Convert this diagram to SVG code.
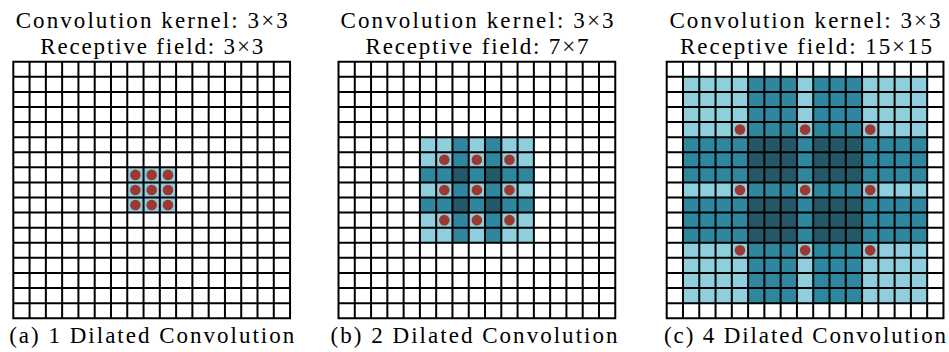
<svg xmlns="http://www.w3.org/2000/svg" xmlns:xlink="http://www.w3.org/1999/xlink" width="949" height="352" viewBox="0 0 949 352">
<style>
text{font-family:"Liberation Serif","Times New Roman",Times,serif;font-size:23px;fill:#000;text-anchor:middle}
.grid{fill:none;stroke:#000;stroke-width:2}
.l{fill:#8fcedc}
.m{fill:#2e879e}
.d{fill:#225868}
.dot{fill:#9c3731}
</style>
<defs>
<path id="gridlines" class="grid" d="M0,0V256.53M16.28,0V256.53M32.56,0V256.53M48.84,0V256.53M65.12,0V256.53M81.4,0V256.53M97.68,0V256.53M113.96,0V256.53M130.24,0V256.53M146.52,0V256.53M162.8,0V256.53M179.08,0V256.53M195.36,0V256.53M211.64,0V256.53M227.92,0V256.53M244.2,0V256.53M260.48,0V256.53M276.76,0V256.53M-1,0H277.76M-1,15.09H277.76M-1,30.18H277.76M-1,45.27H277.76M-1,60.36H277.76M-1,75.45H277.76M-1,90.54H277.76M-1,105.63H277.76M-1,120.72H277.76M-1,135.81H277.76M-1,150.9H277.76M-1,165.99H277.76M-1,181.08H277.76M-1,196.17H277.76M-1,211.26H277.76M-1,226.35H277.76M-1,241.44H277.76M-1,256.53H277.76"/>
</defs>

<g id="panel-a">
<text x="151.7" y="28" textLength="272" lengthAdjust="spacing">Convolution kernel: 3×3</text>
<text x="151.7" y="54" textLength="223" lengthAdjust="spacing">Receptive field: 3×3</text>
<g transform="translate(13.3,61.7)">
<rect class="l" x="113.96" y="105.63" width="48.84" height="45.27"/>
<use xlink:href="#gridlines" href="#gridlines"/>
<circle class="dot" cx="122.1" cy="113.18" r="5.3"/><circle class="dot" cx="138.38" cy="113.18" r="5.3"/><circle class="dot" cx="154.66" cy="113.18" r="5.3"/>
<circle class="dot" cx="122.1" cy="128.27" r="5.3"/><circle class="dot" cx="138.38" cy="128.27" r="5.3"/><circle class="dot" cx="154.66" cy="128.27" r="5.3"/>
<circle class="dot" cx="122.1" cy="143.36" r="5.3"/><circle class="dot" cx="138.38" cy="143.36" r="5.3"/><circle class="dot" cx="154.66" cy="143.36" r="5.3"/>
</g>
<text x="151.7" y="343" textLength="285" lengthAdjust="spacing">(a) 1 Dilated Convolution</text>
</g>

<g id="panel-b">
<text x="477" y="28" textLength="273" lengthAdjust="spacing">Convolution kernel: 3×3</text>
<text x="477" y="54" textLength="223" lengthAdjust="spacing">Receptive field: 7×7</text>
<g transform="translate(338.5,61.7)">
<rect class="l" x="81.4" y="75.45" width="113.96" height="105.63"/>
<rect class="m" x="113.96" y="75.45" width="16.28" height="105.63"/>
<rect class="m" x="146.52" y="75.45" width="16.28" height="105.63"/>
<rect class="m" x="81.4" y="105.63" width="113.96" height="15.09"/>
<rect class="m" x="81.4" y="135.81" width="113.96" height="15.09"/>
<rect class="d" x="113.96" y="105.63" width="16.28" height="15.09"/>
<rect class="d" x="146.52" y="105.63" width="16.28" height="15.09"/>
<rect class="d" x="113.96" y="135.81" width="16.28" height="15.09"/>
<rect class="d" x="146.52" y="135.81" width="16.28" height="15.09"/>
<use xlink:href="#gridlines" href="#gridlines"/>
<circle class="dot" cx="105.82" cy="98.09" r="5.3"/><circle class="dot" cx="138.38" cy="98.09" r="5.3"/><circle class="dot" cx="170.94" cy="98.09" r="5.3"/>
<circle class="dot" cx="105.82" cy="128.27" r="5.3"/><circle class="dot" cx="138.38" cy="128.27" r="5.3"/><circle class="dot" cx="170.94" cy="128.27" r="5.3"/>
<circle class="dot" cx="105.82" cy="158.45" r="5.3"/><circle class="dot" cx="138.38" cy="158.45" r="5.3"/><circle class="dot" cx="170.94" cy="158.45" r="5.3"/>
</g>
<text x="474" y="343" textLength="287" lengthAdjust="spacing">(b) 2 Dilated Convolution</text>
</g>

<g id="panel-c">
<text x="805" y="28" textLength="271" lengthAdjust="spacing">Convolution kernel: 3×3</text>
<text x="806" y="54" textLength="252" lengthAdjust="spacing">Receptive field: 15×15</text>
<g transform="translate(666.7,61.7)">
<rect class="l" x="16.28" y="15.09" width="244.2" height="226.35"/>
<rect class="m" x="81.4" y="15.09" width="48.84" height="226.35"/>
<rect class="m" x="146.52" y="15.09" width="48.84" height="226.35"/>
<rect class="m" x="16.28" y="75.45" width="244.2" height="45.27"/>
<rect class="m" x="16.28" y="135.81" width="244.2" height="45.27"/>
<rect class="d" x="81.4" y="75.45" width="48.84" height="45.27"/>
<rect class="d" x="146.52" y="75.45" width="48.84" height="45.27"/>
<rect class="d" x="81.4" y="135.81" width="48.84" height="45.27"/>
<rect class="d" x="146.52" y="135.81" width="48.84" height="45.27"/>
<use xlink:href="#gridlines" href="#gridlines"/>
<circle class="dot" cx="73.26" cy="67.9" r="5.3"/><circle class="dot" cx="138.38" cy="67.9" r="5.3"/><circle class="dot" cx="203.5" cy="67.9" r="5.3"/>
<circle class="dot" cx="73.26" cy="128.27" r="5.3"/><circle class="dot" cx="138.38" cy="128.27" r="5.3"/><circle class="dot" cx="203.5" cy="128.27" r="5.3"/>
<circle class="dot" cx="73.26" cy="188.64" r="5.3"/><circle class="dot" cx="138.38" cy="188.64" r="5.3"/><circle class="dot" cx="203.5" cy="188.64" r="5.3"/>
</g>
<text x="805" y="343" textLength="282" lengthAdjust="spacing">(c) 4 Dilated Convolution</text>
</g>
</svg>
